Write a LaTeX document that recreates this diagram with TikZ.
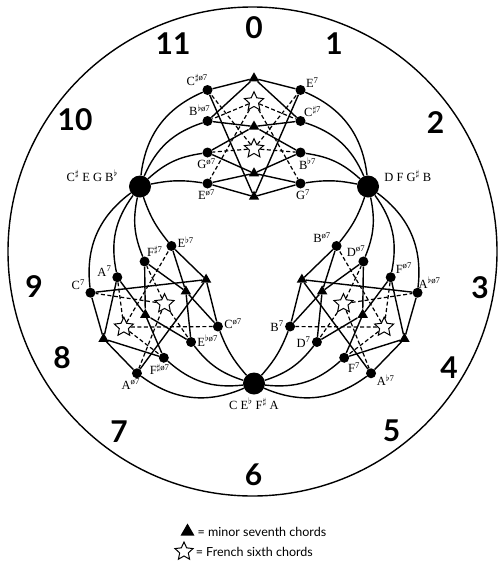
\documentclass[tikz,border=0pt]{standalone}
\usepackage{fontspec}
\setmainfont{Liberation Serif}
\newfontfamily\numfont{Lato}
\usetikzlibrary{positioning, shapes.geometric}
\newcommand{\chsup}[1]{\textsuperscript{#1}}

\begin{document}
\begin{tikzpicture}[
  x=1pt, y=-1pt,
  dim/.style={circle, fill=black, inner sep=0pt, minimum size=22pt},
  chord/.style={circle, fill=black, inner sep=0pt, minimum size=10pt},
  minor/.style={regular polygon, regular polygon sides=3, fill=black, inner sep=0pt, minimum size=12pt},
  french/.style={star, star points=5, star point ratio=2.1, draw=black, fill=white, line width=1pt, inner sep=0pt, minimum size=20pt},
  lbl/.style={font=\fontsize{12.5}{12.5}\selectfont, inner sep=1pt},
  hour/.style={font=\numfont\bfseries\fontsize{30}{30}\selectfont, inner sep=0pt},
  legend/.style={font=\numfont\fontsize{12.5}{12.5}\selectfont, inner sep=0pt},
  link/.style={line width=1.4pt},
  fr/.style={line width=1.2pt, dash pattern=on 4pt off 2.5pt}
]
  \useasboundingbox (0,0) rectangle (498,565);

  %% --- cerchio esterno e ore ---
  \draw[line width=1.4pt] (252.5,251.5) circle[radius=244.5];
  \foreach \h/\hx/\hy in {0/254/27.5, 1/334/44, 2/435.5/122.5, 3/480/288,
                          4/449/368, 5/391.5/431, 6/253.5/475, 7/119/432,
                          8/62/358, 9/34/287, 10/75/120, 11/173/44}
    \node[hour] (h\h) at (\hx,\hy) {\h};

  %% --- accordi diminuiti (i tre poli) ---
  \node[dim] (dCs) at (140,186.5) {};
  \node[dim] (dD)  at (368,186.5) {};
  \node[dim] (dC)  at (254,383.5) {};
  \node[lbl, anchor=south east] (dCslab) at ([shift={(-10pt,4pt)}]dCs.west)
    {C\chsup{$\sharp$} E G B\chsup{$\flat$}};
  \node[lbl, anchor=south west] (dDlab) at ([shift={(4pt,4pt)}]dD.east)
    {D F G\chsup{$\sharp$} B};
  \node[lbl, anchor=north] (dClab) at ([yshift=-2pt]dC.south)
    {C E\chsup{$\flat$} F\chsup{$\sharp$} A};

  %% --- tre regioni, ruotate di 120 gradi attorno al centro ---
  %% colonna L: semidiminuiti, colonna R: settime di dominante
  \foreach \rot/\p/\bl/\br in {0/t/dCs/dD, 120/l/dC/dCs, -120/r/dD/dC} {
    \begin{scope}[rotate around={\rot:(254,252)}]
      \foreach \k/\yy in {1/90, 2/121, 3/152.5, 4/183.5} {
        \node[chord] (\p L\k) at (207.5,\yy) {};
        \node[chord] (\p R\k) at (300.5,\yy) {};
      }
      \foreach \k/\yy in {1/78.3, 2/126.5, 3/173.3, 4/196.7}
        \node[minor] (\p m\k) at (254,\yy) {};
      \foreach \k/\yy in {1/101.7, 2/148.7}
        \node[french] (\p f\k) at (254,\yy) {};
    \end{scope}

    %% settime minori: legami a semitono
    \foreach \a/\b in {m1/L1, m1/R1, m1/L2, m1/R2, m2/L2, m2/R2, m2/L3, m2/R3,
                       m3/L3, m3/R3, m3/L4, m3/R4, m4/L4, m4/R4, m4/L1, m4/R1}
      \draw[link] (\p\a) -- (\p\b);
    %% seste francesi
    \foreach \a/\b in {f1/L2, f1/R2, f1/L4, f1/R4, f2/L3, f2/R3, f2/L1, f2/R1}
      \draw[fr] (\p\a) -- (\p\b);
    %% archi verso i diminuiti
    \foreach \k/\bb in {1/30, 2/24, 3/17, 4/10} {
      \draw[link] (\bl) to[bend left=\bb] (\p L\k);
      \draw[link] (\p R\k) to[bend left=\bb] (\br);
    }
  }

  %% --- etichette degli accordi ---
  \foreach \n/\a/\t in {
    tL1/135/{C\chsup{$\sharp$ø7}}, tR1/33/{E\chsup{7}},
    tL2/125/{B\chsup{$\flat$ø7}},  tR2/39/{C\chsup{$\sharp$7}},
    tL3/265/{G\chsup{ø7}},         tR3/302/{B\chsup{$\flat$7}},
    tL4/265/{E\chsup{ø7}},         tR4/283/{G\chsup{7}},
    lL1/240/{A\chsup{ø7}},         lL2/250/{F\chsup{$\sharp$ø7}},
    lL3/5/{E\chsup{$\flat$ø7}},    lL4/10/{C\chsup{ø7}},
    lR1/146/{C\chsup{7}},          lR2/155/{A\chsup{7}},
    lR3/45/{F\chsup{$\sharp$7}},   lR4/15/{E\chsup{$\flat$7}},
    rL1/40/{A\chsup{$\flat$ø7}},   rL2/35/{F\chsup{ø7}},
    rL3/125/{D\chsup{ø7}},         rL4/150/{B\chsup{ø7}},
    rR1/335/{A\chsup{$\flat$7}},   rR2/315/{F\chsup{7}},
    rR3/180/{D\chsup{7}},          rR4/178/{B\chsup{7}}
  } {
    \pgfmathtruncatemacro{\an}{mod(\a+180,360)}
    \node[lbl, anchor=\an] (\n lab) at (\n.\a) {\t};
  }

  %% --- legenda ---
  \node[minor, minimum size=16pt] (legtri) at (187.5,531.5) {};
  \node[legend, right=5pt of legtri] (legtrilab) {= minor seventh chords};
  \node[french, minimum size=19pt] (legstar) at (184,551.5) {};
  \node[legend, right=5pt of legstar] (legstarlab) {= French sixth chords};
\end{tikzpicture}
\end{document}
